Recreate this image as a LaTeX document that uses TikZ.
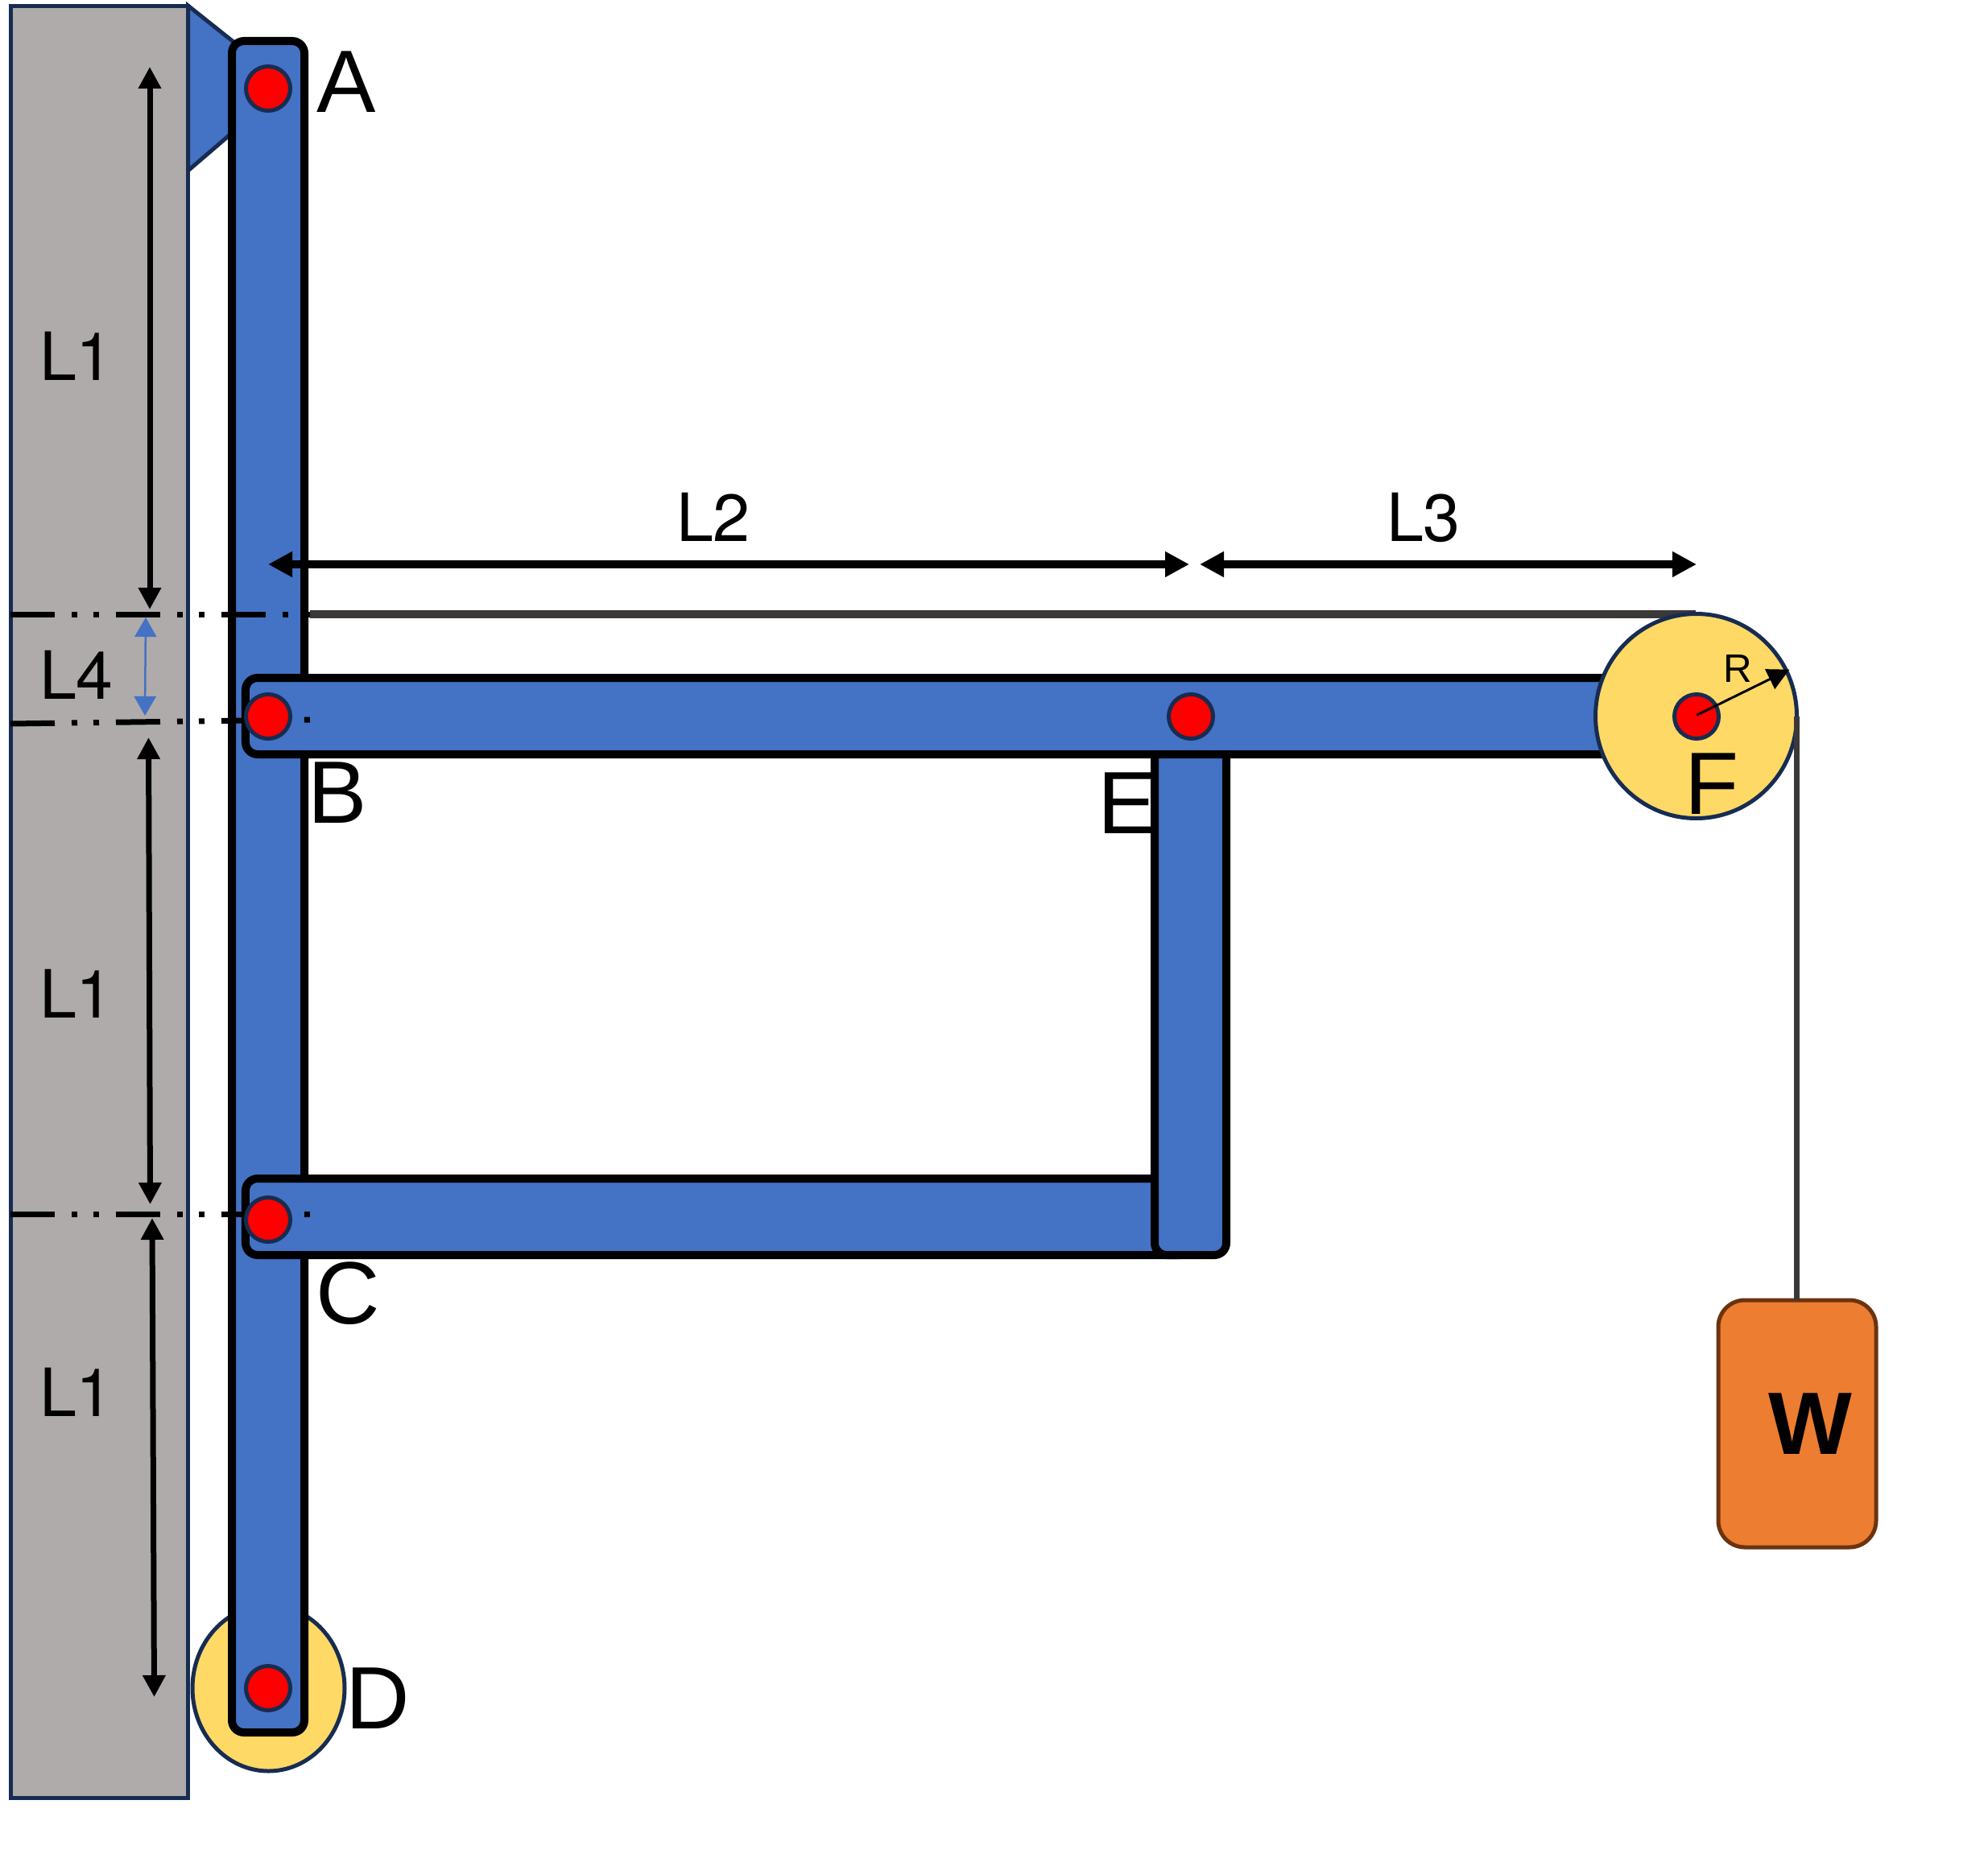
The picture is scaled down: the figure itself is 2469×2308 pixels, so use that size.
\documentclass[tikz,border=0pt]{standalone}
\usepackage{fontspec}
\setmainfont{Liberation Sans}
\newfontfamily\herosfont{TeX Gyre Heros}
\usetikzlibrary{arrows.meta,shapes.geometric}
\definecolor{barblue}{HTML}{4472C4}
\definecolor{edgeblue}{HTML}{172C51}
\definecolor{wallgray}{HTML}{AFABAB}
\definecolor{wheelyellow}{HTML}{FFD966}
\definecolor{ropegray}{HTML}{3B3838}
\definecolor{loadorange}{HTML}{ED7D31}
\definecolor{loadedge}{HTML}{6B340F}
\tikzset{
  x=1bp,y=-1bp,
  rodbox/.style={draw=black,fill=barblue,line width=10bp,rounded corners=15bp,inner sep=0pt,outer sep=0pt},
  pinnode/.style={circle,draw=edgeblue,fill=red,line width=5bp,minimum size=55bp,inner sep=0pt,outer sep=0pt},
  wheelnode/.style={ellipse,draw=edgeblue,fill=wheelyellow,line width=5bp,inner sep=0pt,outer sep=0pt},
  bigtext/.style={font=\fontsize{110.4}{120}\selectfont,anchor=base,inner sep=0pt,outer sep=0pt,text=black},
  dimtext/.style={font=\herosfont\fontsize{83}{100}\selectfont,anchor=base west,inner sep=0pt,outer sep=0pt,text=black},
  centerline/.style={draw=black,line width=7bp,dash pattern=on 55bp off 21bp on 7bp off 20bp on 7bp off 21bp},
  vdim/.style={draw=black,line width=7bp,{Triangle[length=27bp,width=27bp]}-{Triangle[length=27bp,width=27bp]}},
  hdim/.style={draw=black,line width=10bp,{Triangle[length=30bp,width=30bp]}-{Triangle[length=30bp,width=30bp]}},
}
\begin{document}
\begin{tikzpicture}
\useasboundingbox (0,0) rectangle (2469,2308);
% wall and bracket
\node[draw=edgeblue,fill=wallgray,line width=5bp,minimum width=220bp,minimum height=2225.5bp,inner sep=0pt,outer sep=0pt] (wall) at (123.5,1120.25) {};
\draw[draw=edgeblue,fill=barblue,line width=5bp,miter limit=10] (233.5,7) -- (300,60) -- (300,155) -- (233.5,212) -- cycle;
% lower wheel
\node[wheelnode,minimum width=189bp,minimum height=206bp] (wheelD) at (333.5,2097) {};
% main rod
\node[rodbox,minimum width=90bp,minimum height=2101bp] (rodAD) at (333,1101.5) {};
% lower bar, E label, vertical bar
\node[rodbox,minimum width=1175bp,minimum height=95bp] (barC) at (892.5,1511.5) {};
\node[bigtext] (labE) at (1400,1035) {E};
\node[rodbox,minimum width=89bp,minimum height=700bp] (barE) at (1478.5,1209) {};
% upper bar
\node[rodbox,minimum width=1795bp,minimum height=95bp] (barB) at (1202.5,889.5) {};
% top rope runs behind the pulley rim
\coordinate (ropeL) at (385,763);
\coordinate (ropeT) at (2106,763);
\draw[ropegray,line width=10bp] (ropeL) -- (ropeT);
% pulley
\node[wheelnode,minimum width=250bp,minimum height=254bp] (wheelF) at (2106.5,889.5) {};
% hanging rope and load
\coordinate (ropeR) at (2231.5,890);
\node[draw=loadedge,fill=loadorange,line width=5bp,rounded corners=33bp,minimum width=196bp,minimum height=307bp,inner sep=0pt,outer sep=0pt] (load) at (2232,1768.5) {};
\draw[ropegray,line width=7bp] (ropeR) -- (ropeR |- load.north);
% centre lines
\coordinate (cA0) at (13,763); \coordinate (cA1) at (385,763);
\coordinate (cB0) at (13,899); \coordinate (cB1) at (385,894);
\coordinate (cC0) at (13,1508); \coordinate (cC1) at (385,1508);
\draw[centerline] (cA0) -- (cA1);
\draw[centerline] (cB0) -- (cB1);
\draw[centerline] (cC0) -- (cC1);
% pins
\node[pinnode] (A) at (333,110) {};
\node[pinnode] (B) at (333,890) {};
\node[pinnode] (C) at (333,1515) {};
\node[pinnode] (D) at (333,2097) {};
\node[pinnode] (E) at (1479,890) {};
\node[pinnode] (F) at (2107,890) {};
% vertical dimensions
\coordinate (v1a) at (186,83); \coordinate (v1b) at (186,757);
\coordinate (v2a) at (184.5,916); \coordinate (v2b) at (186.5,1496);
\coordinate (v3a) at (189,1513); \coordinate (v3b) at (191.5,2108);
\draw[vdim] (v1a) -- (v1b);
\draw[vdim] (v2a) -- (v2b);
\draw[vdim] (v3a) -- (v3b);
\coordinate (v4a) at (181,767); \coordinate (v4b) at (180,889);
\draw[draw=barblue,line width=2.5bp,{Triangle[length=24bp,width=27bp]}-{Triangle[length=24bp,width=27bp]}] (v4a) -- (v4b);
% horizontal dimensions
\coordinate (h2a) at (333,701); \coordinate (h2b) at (1477,701);
\coordinate (h3a) at (1490,701); \coordinate (h3b) at (2107,701);
\draw[hdim] (h2a) -- (h2b);
\draw[hdim] (h3a) -- (h3b);
% radius
\coordinate (rtail) at (2107.3,888.3);
\coordinate (rtip) at (2222.3,831.7);
\draw[draw=black,line width=3bp,-{Triangle[length=27bp,width=27bp]}] (rtail) -- (rtip);
% labels
\node[bigtext] (labA) at (430,140) {A};
\node[bigtext] (labB) at (419,1022) {B};
\node[bigtext] (labC) at (432.5,1644) {C};
\node[bigtext] (labD) at (469,2147) {D};
\node[bigtext] (labF) at (2126,1011) {F};
\node[font=\fontsize{110.4}{120}\bfseries\selectfont,anchor=base,inner sep=0pt,outer sep=0pt] (labW) at (2248.5,1806) {W};
\node[font=\fontsize{49.5}{55}\selectfont,anchor=base,inner sep=0pt,outer sep=0pt] (labR) at (2158,847.7) {R};
\node[dimtext] (l1a) at (49,472) {L1};
\node[dimtext] (l4) at (49,868) {L4};
\node[dimtext] (l1b) at (49,1264) {L1};
\node[dimtext] (l1c) at (49,1759) {L1};
\node[dimtext] (l2) at (840,672) {L2};
\node[dimtext] (l3) at (1722,672) {L3};
\end{tikzpicture}
\end{document}
